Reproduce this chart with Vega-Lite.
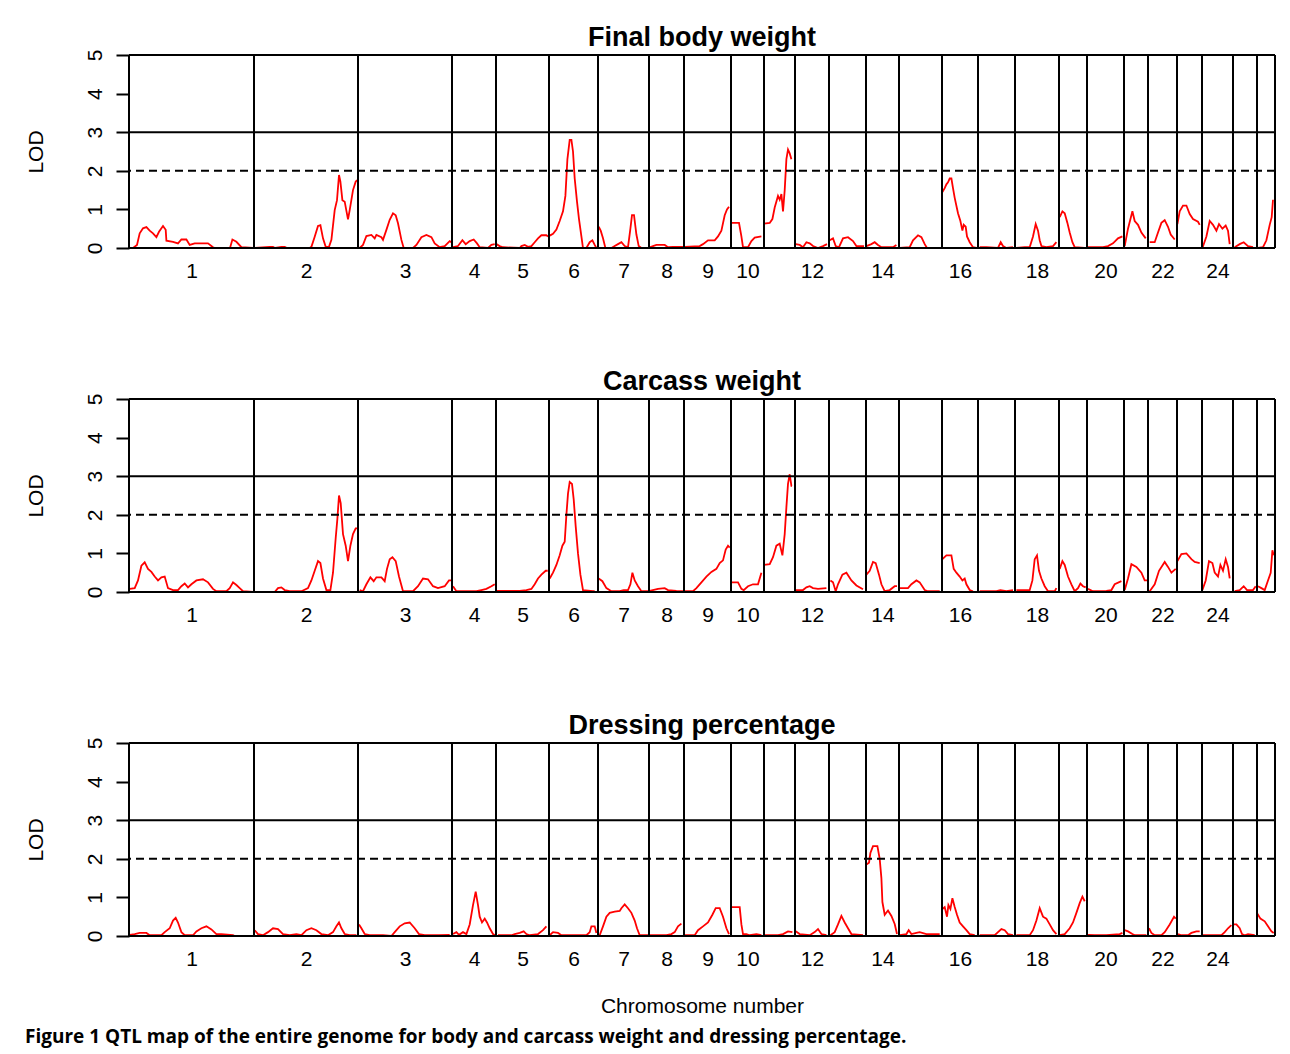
{
"$schema": "https://vega.github.io/schema/vega-lite/v6.json",
"background": "white",
"autosize": {"type": "pad"},
"padding": {"left": 24, "top": 24, "right": 5, "bottom": 3},
"config": {
  "font": "Liberation Sans",
  "view": {"stroke": null},
  "axis": {"labelColor": "black", "titleColor": "black", "labelFont": "Liberation Sans", "titleFont": "Liberation Sans", "labelFontSize": 21, "titleFontSize": 21, "titleFontWeight": "normal", "domainColor": "black", "tickColor": "black", "grid": false},
  "axisY": {"labelOverlap": false, "labelSeparation": 0, "tickCount": 6, "tickSize": 13, "tickWidth": 2, "domain": false, "labelAngle": -90, "labelAlign": "center", "labelBaseline": "bottom", "labelPadding": 11, "labelFlush": false, "labelBound": false, "titlePadding": 38},
  "axisX": {"ticks": false, "tickSize": 0, "domain": false, "labelPadding": 12, "labelOverlap": false, "labelFlush": false, "labelBound": false, "titlePadding": 26}
},
"title": {"text": "Figure 1 QTL map of the entire genome for body and carcass weight and dressing percentage.", "orient": "bottom", "anchor": "start", "frame": "bounds", "font": "Open Sans", "fontSize": 19, "fontWeight": "bold", "color": "black", "offset": 27, "baseline": "alphabetic"},
"spacing": 151,
"bounds": "flush",
"datasets": {
"bounds": [{"pos":0},{"pos":125},{"pos":229},{"pos":323},{"pos":367},{"pos":420},{"pos":469},{"pos":520},{"pos":555},{"pos":602},{"pos":635},{"pos":666},{"pos":700},{"pos":737},{"pos":770},{"pos":813},{"pos":849},{"pos":886},{"pos":930},{"pos":958},{"pos":995},{"pos":1019},{"pos":1048},{"pos":1073},{"pos":1104},{"pos":1128},{"pos":1146}],
"solid": [{"lod":0},{"lod":3},{"lod":5}],
"dashed": [{"lod":2}],
"final": [
{"chr":1,"pos":4,"lod":0},{"chr":1,"pos":8,"lod":0.08},{"chr":1,"pos":10.7,"lod":0.38},{"chr":1,"pos":14,"lod":0.51},{"chr":1,"pos":17.4,"lod":0.54},{"chr":1,"pos":20.7,"lod":0.45},{"chr":1,"pos":24,"lod":0.38},{"chr":1,"pos":27.4,"lod":0.28},{"chr":1,"pos":30,"lod":0.42},{"chr":1,"pos":34,"lod":0.57},{"chr":1,"pos":36.7,"lod":0.47},{"chr":1,"pos":37.4,"lod":0.19},{"chr":1,"pos":44,"lod":0.16},{"chr":1,"pos":49,"lod":0.12},{"chr":1,"pos":52.4,"lod":0.22},{"chr":1,"pos":57.4,"lod":0.22},{"chr":1,"pos":60.7,"lod":0.08},{"chr":1,"pos":65.7,"lod":0.12},{"chr":1,"pos":79,"lod":0.12},{"chr":1,"pos":84,"lod":0.02},{"chr":1,"pos":86,"lod":0},{"chr":1,"pos":101,"lod":0},{"chr":1,"pos":103.4,"lod":0.22},{"chr":1,"pos":107.4,"lod":0.16},{"chr":1,"pos":112.4,"lod":0.02},{"chr":1,"pos":124,"lod":0},
{"chr":2,"pos":126,"lod":0},{"chr":2,"pos":140.7,"lod":0.03},{"chr":2,"pos":144,"lod":0.03},{"chr":2,"pos":146,"lod":0},{"chr":2,"pos":152.4,"lod":0.03},{"chr":2,"pos":155.7,"lod":0.03},{"chr":2,"pos":158,"lod":0},{"chr":2,"pos":180.7,"lod":0},{"chr":2,"pos":182.4,"lod":0.03},{"chr":2,"pos":185.7,"lod":0.29},{"chr":2,"pos":189,"lod":0.57},{"chr":2,"pos":191.4,"lod":0.59},{"chr":2,"pos":194,"lod":0.25},{"chr":2,"pos":196.7,"lod":0.03},{"chr":2,"pos":200,"lod":0.03},{"chr":2,"pos":202.4,"lod":0.21},{"chr":2,"pos":205.7,"lod":0.98},{"chr":2,"pos":208,"lod":1.24},{"chr":2,"pos":210,"lod":1.89},{"chr":2,"pos":211.4,"lod":1.72},{"chr":2,"pos":213.4,"lod":1.24},{"chr":2,"pos":215.7,"lod":1.2},{"chr":2,"pos":219,"lod":0.74},{"chr":2,"pos":220.7,"lod":0.98},{"chr":2,"pos":224,"lod":1.5},{"chr":2,"pos":226.7,"lod":1.72},{"chr":2,"pos":228.4,"lod":1.76},
{"chr":3,"pos":230.7,"lod":0},{"chr":3,"pos":234,"lod":0.08},{"chr":3,"pos":237.4,"lod":0.31},{"chr":3,"pos":242.4,"lod":0.34},{"chr":3,"pos":245.7,"lod":0.25},{"chr":3,"pos":247.4,"lod":0.34},{"chr":3,"pos":252.4,"lod":0.28},{"chr":3,"pos":254,"lod":0.21},{"chr":3,"pos":257.4,"lod":0.47},{"chr":3,"pos":260.7,"lod":0.73},{"chr":3,"pos":264,"lod":0.9},{"chr":3,"pos":266.7,"lod":0.85},{"chr":3,"pos":269,"lod":0.64},{"chr":3,"pos":272.4,"lod":0.21},{"chr":3,"pos":274.7,"lod":0},{"chr":3,"pos":284,"lod":0},{"chr":3,"pos":287.4,"lod":0.08},{"chr":3,"pos":292.4,"lod":0.28},{"chr":3,"pos":297.4,"lod":0.34},{"chr":3,"pos":302.4,"lod":0.28},{"chr":3,"pos":305.7,"lod":0.12},{"chr":3,"pos":310.7,"lod":0.02},{"chr":3,"pos":315.7,"lod":0.05},{"chr":3,"pos":320.7,"lod":0.18},{"chr":3,"pos":322.4,"lod":0.15},
{"chr":4,"pos":324,"lod":0.02},{"chr":4,"pos":329,"lod":0.05},{"chr":4,"pos":333.4,"lod":0.2},{"chr":4,"pos":336.7,"lod":0.1},{"chr":4,"pos":340.7,"lod":0.18},{"chr":4,"pos":344.7,"lod":0.22},{"chr":4,"pos":348,"lod":0.12},{"chr":4,"pos":350.7,"lod":0.02},{"chr":4,"pos":359,"lod":0},{"chr":4,"pos":362.4,"lod":0.08},{"chr":4,"pos":365.7,"lod":0.1},
{"chr":5,"pos":367.4,"lod":0.1},{"chr":5,"pos":370.7,"lod":0.05},{"chr":5,"pos":374,"lod":0.02},{"chr":5,"pos":390.7,"lod":0},{"chr":5,"pos":392.4,"lod":0.05},{"chr":5,"pos":395.7,"lod":0.08},{"chr":5,"pos":399,"lod":0.03},{"chr":5,"pos":402.4,"lod":0.05},{"chr":5,"pos":405.7,"lod":0.15},{"chr":5,"pos":409,"lod":0.25},{"chr":5,"pos":412.4,"lod":0.33},{"chr":5,"pos":417.4,"lod":0.33},{"chr":5,"pos":419,"lod":0.3},
{"chr":6,"pos":420.7,"lod":0.32},{"chr":6,"pos":424,"lod":0.37},{"chr":6,"pos":427.4,"lod":0.48},{"chr":6,"pos":430.7,"lod":0.7},{"chr":6,"pos":434,"lod":0.95},{"chr":6,"pos":436.4,"lod":1.35},{"chr":6,"pos":438.4,"lod":2.3},{"chr":6,"pos":440.7,"lod":2.8},{"chr":6,"pos":442.4,"lod":2.8},{"chr":6,"pos":444,"lod":2.5},{"chr":6,"pos":445.7,"lod":1.8},{"chr":6,"pos":448,"lod":1.2},{"chr":6,"pos":450,"lod":0.75},{"chr":6,"pos":452.4,"lod":0.3},{"chr":6,"pos":454,"lod":0},{"chr":6,"pos":457.4,"lod":0},{"chr":6,"pos":460.7,"lod":0.15},{"chr":6,"pos":463.4,"lod":0.2},{"chr":6,"pos":465.7,"lod":0.08},{"chr":6,"pos":467.4,"lod":0},
{"chr":7,"pos":469.7,"lod":0.55},{"chr":7,"pos":471.7,"lod":0.45},{"chr":7,"pos":474,"lod":0.25},{"chr":7,"pos":476.4,"lod":0},{"chr":7,"pos":482.4,"lod":0},{"chr":7,"pos":485.7,"lod":0.05},{"chr":7,"pos":489,"lod":0.1},{"chr":7,"pos":492.4,"lod":0.15},{"chr":7,"pos":495.7,"lod":0.05},{"chr":7,"pos":499,"lod":0.02},{"chr":7,"pos":501.4,"lod":0.5},{"chr":7,"pos":503,"lod":0.85},{"chr":7,"pos":505,"lod":0.85},{"chr":7,"pos":507.4,"lod":0.35},{"chr":7,"pos":509.7,"lod":0.05},{"chr":7,"pos":512.4,"lod":0},{"chr":7,"pos":519,"lod":0},
{"chr":8,"pos":520.7,"lod":0.02},{"chr":8,"pos":524,"lod":0.05},{"chr":8,"pos":527.4,"lod":0.08},{"chr":8,"pos":535.7,"lod":0.08},{"chr":8,"pos":539,"lod":0.02},{"chr":8,"pos":544,"lod":0.03},{"chr":8,"pos":554,"lod":0.03},
{"chr":9,"pos":555.7,"lod":0.03},{"chr":9,"pos":570.7,"lod":0.05},{"chr":9,"pos":574,"lod":0.1},{"chr":9,"pos":579,"lod":0.2},{"chr":9,"pos":585.7,"lod":0.2},{"chr":9,"pos":589,"lod":0.3},{"chr":9,"pos":592.4,"lod":0.45},{"chr":9,"pos":595.7,"lod":0.85},{"chr":9,"pos":598,"lod":1.0},{"chr":9,"pos":600,"lod":1.07},
{"chr":10,"pos":602.4,"lod":0.65},{"chr":10,"pos":610,"lod":0.65},{"chr":10,"pos":612.4,"lod":0.3},{"chr":10,"pos":614,"lod":0.02},{"chr":10,"pos":619,"lod":0.02},{"chr":10,"pos":622.4,"lod":0.18},{"chr":10,"pos":625.7,"lod":0.27},{"chr":10,"pos":632.4,"lod":0.3},
{"chr":11,"pos":635,"lod":0.63},{"chr":11,"pos":640.7,"lod":0.65},{"chr":11,"pos":643.4,"lod":0.75},{"chr":11,"pos":645.7,"lod":1.05},{"chr":11,"pos":649,"lod":1.35},{"chr":11,"pos":650.7,"lod":1.25},{"chr":11,"pos":652.4,"lod":1.4},{"chr":11,"pos":654,"lod":0.95},{"chr":11,"pos":655.7,"lod":1.5},{"chr":11,"pos":657.4,"lod":2.3},{"chr":11,"pos":659,"lod":2.55},{"chr":11,"pos":660.7,"lod":2.45},{"chr":11,"pos":662.4,"lod":2.3},
{"chr":12,"pos":666.7,"lod":0.1},{"chr":12,"pos":670.7,"lod":0.08},{"chr":12,"pos":674,"lod":0.02},{"chr":12,"pos":677.4,"lod":0.15},{"chr":12,"pos":680.7,"lod":0.12},{"chr":12,"pos":684,"lod":0.05},{"chr":12,"pos":689,"lod":0},{"chr":12,"pos":694,"lod":0.05},{"chr":12,"pos":698,"lod":0.1},
{"chr":13,"pos":700.7,"lod":0.2},{"chr":13,"pos":704,"lod":0.25},{"chr":13,"pos":706.7,"lod":0.05},{"chr":13,"pos":710,"lod":0.02},{"chr":13,"pos":714,"lod":0.25},{"chr":13,"pos":719,"lod":0.28},{"chr":13,"pos":724,"lod":0.18},{"chr":13,"pos":727.4,"lod":0.05},{"chr":13,"pos":735,"lod":0.05},
{"chr":14,"pos":737.4,"lod":0.05},{"chr":14,"pos":742.4,"lod":0.1},{"chr":14,"pos":745.7,"lod":0.15},{"chr":14,"pos":749,"lod":0.08},{"chr":14,"pos":752.4,"lod":0.02},{"chr":14,"pos":764,"lod":0.02},{"chr":14,"pos":767.4,"lod":0.08},
{"chr":15,"pos":770.7,"lod":0},{"chr":15,"pos":780.7,"lod":0.02},{"chr":15,"pos":784,"lod":0.2},{"chr":15,"pos":789,"lod":0.33},{"chr":15,"pos":792.4,"lod":0.28},{"chr":15,"pos":795.7,"lod":0.1},{"chr":15,"pos":798,"lod":0},{"chr":15,"pos":810.7,"lod":0},
{"chr":16,"pos":813.4,"lod":1.45},{"chr":16,"pos":815.7,"lod":1.55},{"chr":16,"pos":817.4,"lod":1.65},{"chr":16,"pos":819,"lod":1.7},{"chr":16,"pos":820.7,"lod":1.8},{"chr":16,"pos":822.4,"lod":1.8},{"chr":16,"pos":824,"lod":1.55},{"chr":16,"pos":825.7,"lod":1.3},{"chr":16,"pos":829,"lod":0.9},{"chr":16,"pos":831.4,"lod":0.7},{"chr":16,"pos":833.4,"lod":0.45},{"chr":16,"pos":834.7,"lod":0.6},{"chr":16,"pos":836.7,"lod":0.55},{"chr":16,"pos":838,"lod":0.3},{"chr":16,"pos":840.7,"lod":0.15},{"chr":16,"pos":844,"lod":0.02},{"chr":16,"pos":847.4,"lod":0},
{"chr":17,"pos":850.7,"lod":0.02},{"chr":17,"pos":857.4,"lod":0.02},{"chr":17,"pos":869,"lod":0},{"chr":17,"pos":871.7,"lod":0.15},{"chr":17,"pos":874,"lod":0.05},{"chr":17,"pos":877.4,"lod":0},{"chr":17,"pos":884,"lod":0.02},
{"chr":18,"pos":887.4,"lod":0},{"chr":18,"pos":895.7,"lod":0.02},{"chr":18,"pos":900.7,"lod":0.02},{"chr":18,"pos":904,"lod":0.3},{"chr":18,"pos":906.7,"lod":0.62},{"chr":18,"pos":909,"lod":0.45},{"chr":18,"pos":910.7,"lod":0.2},{"chr":18,"pos":912.4,"lod":0.05},{"chr":18,"pos":917.4,"lod":0.02},{"chr":18,"pos":924,"lod":0.05},{"chr":18,"pos":927.4,"lod":0.15},
{"chr":19,"pos":930.7,"lod":0.8},{"chr":19,"pos":933.4,"lod":0.95},{"chr":19,"pos":935.7,"lod":0.9},{"chr":19,"pos":938.4,"lod":0.65},{"chr":19,"pos":940.7,"lod":0.4},{"chr":19,"pos":943.4,"lod":0.15},{"chr":19,"pos":945.7,"lod":0.02},{"chr":19,"pos":955.7,"lod":0},
{"chr":20,"pos":959,"lod":0.02},{"chr":20,"pos":967.4,"lod":0.02},{"chr":20,"pos":974,"lod":0.02},{"chr":20,"pos":979,"lod":0.05},{"chr":20,"pos":984,"lod":0.12},{"chr":20,"pos":989,"lod":0.25},{"chr":20,"pos":993.4,"lod":0.3},
{"chr":21,"pos":995.7,"lod":0.05},{"chr":21,"pos":999,"lod":0.5},{"chr":21,"pos":1003.4,"lod":0.95},{"chr":21,"pos":1005.7,"lod":0.7},{"chr":21,"pos":1009,"lod":0.6},{"chr":21,"pos":1012.4,"lod":0.4},{"chr":21,"pos":1016.7,"lod":0.25},
{"chr":22,"pos":1020.7,"lod":0.15},{"chr":22,"pos":1025.7,"lod":0.15},{"chr":22,"pos":1029,"lod":0.4},{"chr":22,"pos":1032.4,"lod":0.65},{"chr":22,"pos":1035.7,"lod":0.72},{"chr":22,"pos":1039,"lod":0.55},{"chr":22,"pos":1041.7,"lod":0.35},{"chr":22,"pos":1045.7,"lod":0.22},
{"chr":23,"pos":1048.4,"lod":0.62},{"chr":23,"pos":1050.7,"lod":0.95},{"chr":23,"pos":1054,"lod":1.1},{"chr":23,"pos":1057.4,"lod":1.1},{"chr":23,"pos":1060.7,"lod":0.88},{"chr":23,"pos":1064,"lod":0.75},{"chr":23,"pos":1069,"lod":0.68},{"chr":23,"pos":1070.7,"lod":0.6},
{"chr":24,"pos":1073.4,"lod":0},{"chr":24,"pos":1077.4,"lod":0.3},{"chr":24,"pos":1080.7,"lod":0.7},{"chr":24,"pos":1084,"lod":0.6},{"chr":24,"pos":1087.4,"lod":0.45},{"chr":24,"pos":1090,"lod":0.62},{"chr":24,"pos":1093.4,"lod":0.5},{"chr":24,"pos":1096.7,"lod":0.58},{"chr":24,"pos":1099,"lod":0.45},{"chr":24,"pos":1100.7,"lod":0.1},
{"chr":25,"pos":1105.7,"lod":0.02},{"chr":25,"pos":1110.7,"lod":0.1},{"chr":25,"pos":1114.7,"lod":0.15},{"chr":25,"pos":1119,"lod":0.05},{"chr":25,"pos":1124,"lod":0.02},
{"chr":26,"pos":1129,"lod":0},{"chr":26,"pos":1134,"lod":0.02},{"chr":26,"pos":1137.4,"lod":0.2},{"chr":26,"pos":1140.7,"lod":0.6},{"chr":26,"pos":1142.7,"lod":0.8},{"chr":26,"pos":1144,"lod":1.25}
],
"carcass": [
{"chr":1,"pos":0.7,"lod":0.08},{"chr":1,"pos":5.7,"lod":0.1},{"chr":1,"pos":9,"lod":0.3},{"chr":1,"pos":12.4,"lod":0.68},{"chr":1,"pos":15.7,"lod":0.77},{"chr":1,"pos":19,"lod":0.6},{"chr":1,"pos":22.4,"lod":0.52},{"chr":1,"pos":25.7,"lod":0.4},{"chr":1,"pos":29,"lod":0.3},{"chr":1,"pos":32.4,"lod":0.38},{"chr":1,"pos":35.7,"lod":0.4},{"chr":1,"pos":39,"lod":0.1},{"chr":1,"pos":44,"lod":0.05},{"chr":1,"pos":49,"lod":0.05},{"chr":1,"pos":52.4,"lod":0.15},{"chr":1,"pos":55.7,"lod":0.22},{"chr":1,"pos":59,"lod":0.12},{"chr":1,"pos":62.4,"lod":0.2},{"chr":1,"pos":67.4,"lod":0.3},{"chr":1,"pos":74,"lod":0.33},{"chr":1,"pos":79,"lod":0.25},{"chr":1,"pos":84,"lod":0.08},{"chr":1,"pos":87.4,"lod":0.02},{"chr":1,"pos":97.4,"lod":0.02},{"chr":1,"pos":100.7,"lod":0.1},{"chr":1,"pos":104,"lod":0.25},{"chr":1,"pos":107.4,"lod":0.18},{"chr":1,"pos":110.7,"lod":0.1},{"chr":1,"pos":114,"lod":0.02},{"chr":1,"pos":124,"lod":0},
{"chr":2,"pos":125.7,"lod":0},{"chr":2,"pos":145.7,"lod":0},{"chr":2,"pos":149,"lod":0.1},{"chr":2,"pos":152.4,"lod":0.12},{"chr":2,"pos":155.7,"lod":0.05},{"chr":2,"pos":160.7,"lod":0.02},{"chr":2,"pos":169,"lod":0.02},{"chr":2,"pos":172.4,"lod":0.02},{"chr":2,"pos":179,"lod":0.1},{"chr":2,"pos":182.4,"lod":0.3},{"chr":2,"pos":185.7,"lod":0.55},{"chr":2,"pos":189,"lod":0.8},{"chr":2,"pos":191.4,"lod":0.75},{"chr":2,"pos":194,"lod":0.35},{"chr":2,"pos":197.4,"lod":0.05},{"chr":2,"pos":201.4,"lod":0.05},{"chr":2,"pos":204,"lod":0.5},{"chr":2,"pos":206.7,"lod":1.4},{"chr":2,"pos":208.4,"lod":1.9},{"chr":2,"pos":210,"lod":2.5},{"chr":2,"pos":211.7,"lod":2.3},{"chr":2,"pos":214,"lod":1.5},{"chr":2,"pos":216.7,"lod":1.2},{"chr":2,"pos":219,"lod":0.8},{"chr":2,"pos":221.4,"lod":1.2},{"chr":2,"pos":224,"lod":1.5},{"chr":2,"pos":226.7,"lod":1.65},{"chr":2,"pos":228.4,"lod":1.65},
{"chr":3,"pos":230.7,"lod":0.05},{"chr":3,"pos":234,"lod":0.02},{"chr":3,"pos":237.4,"lod":0.2},{"chr":3,"pos":241.4,"lod":0.38},{"chr":3,"pos":244.7,"lod":0.28},{"chr":3,"pos":247.4,"lod":0.38},{"chr":3,"pos":252.4,"lod":0.38},{"chr":3,"pos":255.7,"lod":0.28},{"chr":3,"pos":258,"lod":0.6},{"chr":3,"pos":260.7,"lod":0.85},{"chr":3,"pos":263.4,"lod":0.9},{"chr":3,"pos":266.7,"lod":0.8},{"chr":3,"pos":270,"lod":0.4},{"chr":3,"pos":274,"lod":0.02},{"chr":3,"pos":284,"lod":0.02},{"chr":3,"pos":289,"lod":0.15},{"chr":3,"pos":294,"lod":0.35},{"chr":3,"pos":299,"lod":0.33},{"chr":3,"pos":304,"lod":0.15},{"chr":3,"pos":309,"lod":0.1},{"chr":3,"pos":315.7,"lod":0.15},{"chr":3,"pos":320,"lod":0.3},{"chr":3,"pos":322.4,"lod":0.3},
{"chr":4,"pos":324,"lod":0.15},{"chr":4,"pos":327.4,"lod":0.02},{"chr":4,"pos":330.7,"lod":0.02},{"chr":4,"pos":347.4,"lod":0.02},{"chr":4,"pos":352.4,"lod":0.05},{"chr":4,"pos":357.4,"lod":0.08},{"chr":4,"pos":362.4,"lod":0.15},{"chr":4,"pos":365.7,"lod":0.2},
{"chr":5,"pos":368,"lod":0.03},{"chr":5,"pos":390.7,"lod":0.03},{"chr":5,"pos":397.4,"lod":0.05},{"chr":5,"pos":402.4,"lod":0.08},{"chr":5,"pos":405.7,"lod":0.2},{"chr":5,"pos":409,"lod":0.35},{"chr":5,"pos":412.4,"lod":0.45},{"chr":5,"pos":416.7,"lod":0.55},{"chr":5,"pos":418.7,"lod":0.55},
{"chr":6,"pos":420.7,"lod":0.35},{"chr":6,"pos":424,"lod":0.5},{"chr":6,"pos":427.4,"lod":0.7},{"chr":6,"pos":430.7,"lod":0.95},{"chr":6,"pos":433.4,"lod":1.2},{"chr":6,"pos":435.7,"lod":1.3},{"chr":6,"pos":437.4,"lod":2.0},{"chr":6,"pos":439,"lod":2.55},{"chr":6,"pos":440.7,"lod":2.85},{"chr":6,"pos":443,"lod":2.8},{"chr":6,"pos":444.7,"lod":2.4},{"chr":6,"pos":446.7,"lod":1.7},{"chr":6,"pos":449,"lod":1.0},{"chr":6,"pos":451.4,"lod":0.45},{"chr":6,"pos":454,"lod":0.05},{"chr":6,"pos":464,"lod":0.02},{"chr":6,"pos":465.7,"lod":0.02},
{"chr":7,"pos":469.7,"lod":0.35},{"chr":7,"pos":473.4,"lod":0.28},{"chr":7,"pos":477.4,"lod":0.1},{"chr":7,"pos":482.4,"lod":0.02},{"chr":7,"pos":490.7,"lod":0.02},{"chr":7,"pos":494.7,"lod":0.05},{"chr":7,"pos":499,"lod":0.05},{"chr":7,"pos":501.4,"lod":0.2},{"chr":7,"pos":503.4,"lod":0.5},{"chr":7,"pos":505.7,"lod":0.3},{"chr":7,"pos":509,"lod":0.15},{"chr":7,"pos":512.4,"lod":0.02},{"chr":7,"pos":519,"lod":0.02},
{"chr":8,"pos":520.7,"lod":0.03},{"chr":8,"pos":529,"lod":0.08},{"chr":8,"pos":535.7,"lod":0.1},{"chr":8,"pos":539,"lod":0.05},{"chr":8,"pos":547.4,"lod":0.03},{"chr":8,"pos":554,"lod":0.02},
{"chr":9,"pos":555.7,"lod":0.02},{"chr":9,"pos":564,"lod":0.02},{"chr":9,"pos":567.4,"lod":0.1},{"chr":9,"pos":572.4,"lod":0.25},{"chr":9,"pos":577.4,"lod":0.4},{"chr":9,"pos":582.4,"lod":0.52},{"chr":9,"pos":587.4,"lod":0.6},{"chr":9,"pos":590.7,"lod":0.75},{"chr":9,"pos":594,"lod":0.82},{"chr":9,"pos":596.7,"lod":1.1},{"chr":9,"pos":599,"lod":1.2},{"chr":9,"pos":600.7,"lod":1.15},
{"chr":10,"pos":602.4,"lod":0.25},{"chr":10,"pos":609,"lod":0.25},{"chr":10,"pos":612.4,"lod":0.08},{"chr":10,"pos":614.7,"lod":0.05},{"chr":10,"pos":619,"lod":0.15},{"chr":10,"pos":624,"lod":0.2},{"chr":10,"pos":629,"lod":0.2},{"chr":10,"pos":632.4,"lod":0.5},
{"chr":11,"pos":635,"lod":0.7},{"chr":11,"pos":640.7,"lod":0.72},{"chr":11,"pos":644,"lod":0.9},{"chr":11,"pos":647.4,"lod":1.2},{"chr":11,"pos":650.7,"lod":1.25},{"chr":11,"pos":653.4,"lod":0.95},{"chr":11,"pos":655.7,"lod":1.5},{"chr":11,"pos":657.4,"lod":2.2},{"chr":11,"pos":659,"lod":2.8},{"chr":11,"pos":660.7,"lod":3.05},{"chr":11,"pos":662.4,"lod":2.75},{"chr":11,"pos":663,"lod":2.75},
{"chr":12,"pos":666.7,"lod":0.05},{"chr":12,"pos":674,"lod":0.05},{"chr":12,"pos":677.4,"lod":0.12},{"chr":12,"pos":680.7,"lod":0.15},{"chr":12,"pos":684,"lod":0.1},{"chr":12,"pos":689,"lod":0.08},{"chr":12,"pos":697.4,"lod":0.1},
{"chr":13,"pos":701.4,"lod":0.3},{"chr":13,"pos":704,"lod":0.25},{"chr":13,"pos":706.7,"lod":0.02},{"chr":13,"pos":709,"lod":0.2},{"chr":13,"pos":713.4,"lod":0.45},{"chr":13,"pos":717.4,"lod":0.5},{"chr":13,"pos":722.4,"lod":0.3},{"chr":13,"pos":727.4,"lod":0.17},{"chr":13,"pos":734,"lod":0.07},
{"chr":14,"pos":737.4,"lod":0.45},{"chr":14,"pos":740.7,"lod":0.55},{"chr":14,"pos":744,"lod":0.78},{"chr":14,"pos":746.7,"lod":0.75},{"chr":14,"pos":750,"lod":0.45},{"chr":14,"pos":752.4,"lod":0.2},{"chr":14,"pos":755.7,"lod":0.02},{"chr":14,"pos":760.7,"lod":0.05},{"chr":14,"pos":765.7,"lod":0.15},{"chr":14,"pos":768,"lod":0.15},
{"chr":15,"pos":770.7,"lod":0.1},{"chr":15,"pos":779,"lod":0.1},{"chr":15,"pos":782.4,"lod":0.2},{"chr":15,"pos":787.4,"lod":0.3},{"chr":15,"pos":790.7,"lod":0.25},{"chr":15,"pos":795.7,"lod":0.05},{"chr":15,"pos":799,"lod":0.02},{"chr":15,"pos":810.7,"lod":0.02},
{"chr":16,"pos":813.4,"lod":0.85},{"chr":16,"pos":817.4,"lod":0.95},{"chr":16,"pos":822.4,"lod":0.95},{"chr":16,"pos":824.7,"lod":0.6},{"chr":16,"pos":827.4,"lod":0.5},{"chr":16,"pos":830.7,"lod":0.4},{"chr":16,"pos":833.4,"lod":0.3},{"chr":16,"pos":835.7,"lod":0.35},{"chr":16,"pos":837.4,"lod":0.2},{"chr":16,"pos":840.7,"lod":0.05},{"chr":16,"pos":844,"lod":0.02},
{"chr":17,"pos":850.7,"lod":0.02},{"chr":17,"pos":864,"lod":0.02},{"chr":17,"pos":867.4,"lod":0.02},{"chr":17,"pos":871.4,"lod":0.05},{"chr":17,"pos":877.4,"lod":0.02},{"chr":17,"pos":884,"lod":0.05},
{"chr":18,"pos":887.4,"lod":0.05},{"chr":18,"pos":900.7,"lod":0.05},{"chr":18,"pos":903.4,"lod":0.3},{"chr":18,"pos":905.7,"lod":0.85},{"chr":18,"pos":908,"lod":0.95},{"chr":18,"pos":910,"lod":0.55},{"chr":18,"pos":912.4,"lod":0.35},{"chr":18,"pos":915.7,"lod":0.15},{"chr":18,"pos":919,"lod":0.02},{"chr":18,"pos":925.7,"lod":0.02},{"chr":18,"pos":927.4,"lod":0.1},
{"chr":19,"pos":930.7,"lod":0.6},{"chr":19,"pos":933.4,"lod":0.8},{"chr":19,"pos":935.7,"lod":0.7},{"chr":19,"pos":939,"lod":0.4},{"chr":19,"pos":942.4,"lod":0.2},{"chr":19,"pos":945.7,"lod":0.02},{"chr":19,"pos":949,"lod":0.1},{"chr":19,"pos":951.4,"lod":0.22},{"chr":19,"pos":954,"lod":0.15},{"chr":19,"pos":956.7,"lod":0.12},
{"chr":20,"pos":959,"lod":0.08},{"chr":20,"pos":964,"lod":0.02},{"chr":20,"pos":970.7,"lod":0.02},{"chr":20,"pos":977.4,"lod":0.03},{"chr":20,"pos":982.4,"lod":0.05},{"chr":20,"pos":985.7,"lod":0.2},{"chr":20,"pos":992.4,"lod":0.28},
{"chr":21,"pos":995.7,"lod":0.05},{"chr":21,"pos":999,"lod":0.35},{"chr":21,"pos":1002.4,"lod":0.72},{"chr":21,"pos":1007.4,"lod":0.65},{"chr":21,"pos":1012.4,"lod":0.5},{"chr":21,"pos":1015.7,"lod":0.3},{"chr":21,"pos":1018,"lod":0.3},
{"chr":22,"pos":1020.7,"lod":0.02},{"chr":22,"pos":1025.7,"lod":0.2},{"chr":22,"pos":1030,"lod":0.55},{"chr":22,"pos":1035.7,"lod":0.78},{"chr":22,"pos":1039,"lod":0.65},{"chr":22,"pos":1042.4,"lod":0.5},{"chr":22,"pos":1046.7,"lod":0.6},
{"chr":23,"pos":1048.4,"lod":0.8},{"chr":23,"pos":1052.4,"lod":0.98},{"chr":23,"pos":1057.4,"lod":1.0},{"chr":23,"pos":1062.4,"lod":0.85},{"chr":23,"pos":1065.7,"lod":0.78},{"chr":23,"pos":1070.7,"lod":0.75},
{"chr":24,"pos":1073.4,"lod":0.05},{"chr":24,"pos":1076.7,"lod":0.3},{"chr":24,"pos":1080,"lod":0.8},{"chr":24,"pos":1083.4,"lod":0.75},{"chr":24,"pos":1085.7,"lod":0.5},{"chr":24,"pos":1089,"lod":0.4},{"chr":24,"pos":1091.4,"lod":0.7},{"chr":24,"pos":1094,"lod":0.55},{"chr":24,"pos":1096.7,"lod":0.85},{"chr":24,"pos":1099,"lod":0.65},{"chr":24,"pos":1100.7,"lod":0.35},
{"chr":25,"pos":1105.7,"lod":0.02},{"chr":25,"pos":1110.7,"lod":0.05},{"chr":25,"pos":1114.7,"lod":0.15},{"chr":25,"pos":1118,"lod":0.05},{"chr":25,"pos":1124,"lod":0.05},{"chr":25,"pos":1126.7,"lod":0.15},
{"chr":26,"pos":1129,"lod":0.15},{"chr":26,"pos":1132.4,"lod":0.1},{"chr":26,"pos":1135.7,"lod":0.05},{"chr":26,"pos":1139,"lod":0.3},{"chr":26,"pos":1141.7,"lod":0.5},{"chr":26,"pos":1143.4,"lod":1.08},{"chr":26,"pos":1144.7,"lod":0.95}
],
"dressing": [
{"chr":1,"pos":0.7,"lod":0.03},{"chr":1,"pos":5.7,"lod":0.05},{"chr":1,"pos":10.7,"lod":0.08},{"chr":1,"pos":17.4,"lod":0.08},{"chr":1,"pos":20.7,"lod":0.02},{"chr":1,"pos":32.4,"lod":0.02},{"chr":1,"pos":35.7,"lod":0.1},{"chr":1,"pos":40.7,"lod":0.2},{"chr":1,"pos":44,"lod":0.4},{"chr":1,"pos":46.7,"lod":0.47},{"chr":1,"pos":49,"lod":0.35},{"chr":1,"pos":52.4,"lod":0.1},{"chr":1,"pos":55.7,"lod":0.02},{"chr":1,"pos":64,"lod":0.02},{"chr":1,"pos":67.4,"lod":0.12},{"chr":1,"pos":72.4,"lod":0.2},{"chr":1,"pos":77.4,"lod":0.25},{"chr":1,"pos":82.4,"lod":0.17},{"chr":1,"pos":87.4,"lod":0.05},{"chr":1,"pos":92.4,"lod":0.05},{"chr":1,"pos":104,"lod":0.02},{"chr":1,"pos":105.7,"lod":0},
{"chr":2,"pos":125.7,"lod":0.15},{"chr":2,"pos":129,"lod":0.05},{"chr":2,"pos":134,"lod":0.02},{"chr":2,"pos":139,"lod":0.1},{"chr":2,"pos":144,"lod":0.2},{"chr":2,"pos":149,"lod":0.18},{"chr":2,"pos":154,"lod":0.05},{"chr":2,"pos":160.7,"lod":0.02},{"chr":2,"pos":167.4,"lod":0.05},{"chr":2,"pos":172.4,"lod":0.02},{"chr":2,"pos":177.4,"lod":0.15},{"chr":2,"pos":182.4,"lod":0.2},{"chr":2,"pos":187.4,"lod":0.15},{"chr":2,"pos":192.4,"lod":0.05},{"chr":2,"pos":199,"lod":0.02},{"chr":2,"pos":204,"lod":0.1},{"chr":2,"pos":207.4,"lod":0.25},{"chr":2,"pos":210,"lod":0.35},{"chr":2,"pos":212.4,"lod":0.2},{"chr":2,"pos":215.7,"lod":0.05},{"chr":2,"pos":220.7,"lod":0.02},{"chr":2,"pos":227.4,"lod":0.02},
{"chr":3,"pos":230,"lod":0.3},{"chr":3,"pos":232.4,"lod":0.2},{"chr":3,"pos":235.7,"lod":0.05},{"chr":3,"pos":240.7,"lod":0.02},{"chr":3,"pos":254,"lod":0.02},{"chr":3,"pos":262.4,"lod":0},{"chr":3,"pos":265.7,"lod":0.1},{"chr":3,"pos":270.7,"lod":0.25},{"chr":3,"pos":275.7,"lod":0.33},{"chr":3,"pos":280.7,"lod":0.35},{"chr":3,"pos":285.7,"lod":0.2},{"chr":3,"pos":290,"lod":0.05},{"chr":3,"pos":295.7,"lod":0.02},{"chr":3,"pos":310,"lod":0.02},{"chr":3,"pos":320.7,"lod":0.03},
{"chr":4,"pos":324,"lod":0.05},{"chr":4,"pos":327.4,"lod":0.1},{"chr":4,"pos":330,"lod":0.03},{"chr":4,"pos":334,"lod":0.1},{"chr":4,"pos":337.4,"lod":0.05},{"chr":4,"pos":340.7,"lod":0.3},{"chr":4,"pos":344,"lod":0.8},{"chr":4,"pos":346.7,"lod":1.15},{"chr":4,"pos":349,"lod":0.8},{"chr":4,"pos":350.7,"lod":0.5},{"chr":4,"pos":353,"lod":0.35},{"chr":4,"pos":355.7,"lod":0.45},{"chr":4,"pos":358,"lod":0.35},{"chr":4,"pos":360.7,"lod":0.2},{"chr":4,"pos":364,"lod":0.05},{"chr":4,"pos":366,"lod":0.02},
{"chr":5,"pos":369,"lod":0.02},{"chr":5,"pos":382.4,"lod":0.02},{"chr":5,"pos":385.7,"lod":0.05},{"chr":5,"pos":390.7,"lod":0.08},{"chr":5,"pos":394.7,"lod":0.12},{"chr":5,"pos":397.4,"lod":0.05},{"chr":5,"pos":400.7,"lod":0.02},{"chr":5,"pos":409,"lod":0.05},{"chr":5,"pos":414,"lod":0.15},{"chr":5,"pos":417.4,"lod":0.25},
{"chr":6,"pos":420.7,"lod":0.02},{"chr":6,"pos":424,"lod":0.1},{"chr":6,"pos":429,"lod":0.08},{"chr":6,"pos":432.4,"lod":0.02},{"chr":6,"pos":457.4,"lod":0.02},{"chr":6,"pos":460.7,"lod":0.1},{"chr":6,"pos":462.4,"lod":0.25},{"chr":6,"pos":465.7,"lod":0.25},{"chr":6,"pos":467.4,"lod":0.08},
{"chr":7,"pos":470.7,"lod":0.02},{"chr":7,"pos":474,"lod":0.25},{"chr":7,"pos":477.4,"lod":0.5},{"chr":7,"pos":480.7,"lod":0.6},{"chr":7,"pos":485.7,"lod":0.63},{"chr":7,"pos":490.7,"lod":0.65},{"chr":7,"pos":492.4,"lod":0.72},{"chr":7,"pos":495.7,"lod":0.82},{"chr":7,"pos":499,"lod":0.72},{"chr":7,"pos":502.4,"lod":0.6},{"chr":7,"pos":505.7,"lod":0.4},{"chr":7,"pos":508,"lod":0.2},{"chr":7,"pos":510.7,"lod":0.02},{"chr":7,"pos":519,"lod":0.02},
{"chr":8,"pos":520.7,"lod":0.02},{"chr":8,"pos":537.4,"lod":0.02},{"chr":8,"pos":542.4,"lod":0.05},{"chr":8,"pos":545.7,"lod":0.1},{"chr":8,"pos":549,"lod":0.25},{"chr":8,"pos":552.4,"lod":0.32},
{"chr":9,"pos":555.7,"lod":0.02},{"chr":9,"pos":565.7,"lod":0.02},{"chr":9,"pos":569,"lod":0.15},{"chr":9,"pos":574,"lod":0.25},{"chr":9,"pos":579,"lod":0.35},{"chr":9,"pos":583.4,"lod":0.55},{"chr":9,"pos":586.7,"lod":0.72},{"chr":9,"pos":590.7,"lod":0.72},{"chr":9,"pos":594,"lod":0.5},{"chr":9,"pos":597.4,"lod":0.2},{"chr":9,"pos":600,"lod":0.05},
{"chr":10,"pos":602.4,"lod":0.75},{"chr":10,"pos":610.7,"lod":0.75},{"chr":10,"pos":612.4,"lod":0.3},{"chr":10,"pos":614,"lod":0.05},{"chr":10,"pos":617.4,"lod":0.05},{"chr":10,"pos":620.7,"lod":0.02},{"chr":10,"pos":627.4,"lod":0.05},{"chr":10,"pos":632.4,"lod":0.02},
{"chr":11,"pos":635.7,"lod":0.02},{"chr":11,"pos":649,"lod":0.02},{"chr":11,"pos":654,"lod":0.05},{"chr":11,"pos":659,"lod":0.12},{"chr":11,"pos":663.4,"lod":0.1},
{"chr":12,"pos":666.7,"lod":0.12},{"chr":12,"pos":670.7,"lod":0.05},{"chr":12,"pos":680.7,"lod":0.02},{"chr":12,"pos":685.7,"lod":0.1},{"chr":12,"pos":689,"lod":0.18},{"chr":12,"pos":692.4,"lod":0.05},{"chr":12,"pos":697.4,"lod":0.02},
{"chr":13,"pos":701.4,"lod":0.02},{"chr":13,"pos":705.7,"lod":0.1},{"chr":13,"pos":709,"lod":0.3},{"chr":13,"pos":712.4,"lod":0.52},{"chr":13,"pos":715.7,"lod":0.35},{"chr":13,"pos":719,"lod":0.2},{"chr":13,"pos":722.4,"lod":0.05},{"chr":13,"pos":734,"lod":0.02},
{"chr":14,"pos":737.4,"lod":1.85},{"chr":14,"pos":740,"lod":1.9},{"chr":14,"pos":741.4,"lod":2.15},{"chr":14,"pos":744,"lod":2.33},{"chr":14,"pos":748.4,"lod":2.33},{"chr":14,"pos":750.7,"lod":2.0},{"chr":14,"pos":752.4,"lod":1.5},{"chr":14,"pos":753.4,"lod":0.88},{"chr":14,"pos":755.7,"lod":0.55},{"chr":14,"pos":759,"lod":0.66},{"chr":14,"pos":762.4,"lod":0.52},{"chr":14,"pos":765.7,"lod":0.31},{"chr":14,"pos":768,"lod":0.05},
{"chr":15,"pos":770.7,"lod":0.02},{"chr":15,"pos":777.4,"lod":0.05},{"chr":15,"pos":779.7,"lod":0.15},{"chr":15,"pos":782.4,"lod":0.05},{"chr":15,"pos":787.4,"lod":0.08},{"chr":15,"pos":790.7,"lod":0.1},{"chr":15,"pos":797.4,"lod":0.05},{"chr":15,"pos":807.4,"lod":0.05},{"chr":15,"pos":810.7,"lod":0.05},
{"chr":16,"pos":813.4,"lod":0.7},{"chr":16,"pos":815.7,"lod":0.75},{"chr":16,"pos":818,"lod":0.5},{"chr":16,"pos":819.4,"lod":0.8},{"chr":16,"pos":821.4,"lod":0.7},{"chr":16,"pos":823.4,"lod":0.98},{"chr":16,"pos":825.7,"lod":0.75},{"chr":16,"pos":828,"lod":0.55},{"chr":16,"pos":830.7,"lod":0.35},{"chr":16,"pos":834,"lod":0.25},{"chr":16,"pos":837.4,"lod":0.15},{"chr":16,"pos":840.7,"lod":0.05},{"chr":16,"pos":845.7,"lod":0.02},
{"chr":17,"pos":850.7,"lod":0.02},{"chr":17,"pos":865.7,"lod":0.02},{"chr":17,"pos":869,"lod":0.1},{"chr":17,"pos":872.4,"lod":0.18},{"chr":17,"pos":875.7,"lod":0.15},{"chr":17,"pos":879,"lod":0.05},{"chr":17,"pos":884,"lod":0.02},
{"chr":18,"pos":887.4,"lod":0.02},{"chr":18,"pos":900.7,"lod":0.02},{"chr":18,"pos":904,"lod":0.15},{"chr":18,"pos":907.4,"lod":0.4},{"chr":18,"pos":910.7,"lod":0.72},{"chr":18,"pos":914,"lod":0.5},{"chr":18,"pos":917.4,"lod":0.45},{"chr":18,"pos":920.7,"lod":0.3},{"chr":18,"pos":924,"lod":0.15},{"chr":18,"pos":927.4,"lod":0.05},
{"chr":19,"pos":930.7,"lod":0.02},{"chr":19,"pos":935.7,"lod":0.05},{"chr":19,"pos":940.7,"lod":0.2},{"chr":19,"pos":944,"lod":0.35},{"chr":19,"pos":947.4,"lod":0.6},{"chr":19,"pos":950.7,"lod":0.85},{"chr":19,"pos":953.4,"lod":1.02},{"chr":19,"pos":955.7,"lod":0.9},
{"chr":20,"pos":959,"lod":0.03},{"chr":20,"pos":965.7,"lod":0.02},{"chr":20,"pos":977.4,"lod":0.02},{"chr":20,"pos":980.7,"lod":0.03},{"chr":20,"pos":990.7,"lod":0.05},{"chr":20,"pos":993.4,"lod":0.08},
{"chr":21,"pos":995.7,"lod":0.15},{"chr":21,"pos":999,"lod":0.12},{"chr":21,"pos":1003.4,"lod":0.05},{"chr":21,"pos":1005.7,"lod":0.02},{"chr":21,"pos":1017.4,"lod":0.02},
{"chr":22,"pos":1020,"lod":0.2},{"chr":22,"pos":1022.4,"lod":0.08},{"chr":22,"pos":1025.7,"lod":0.02},{"chr":22,"pos":1032.4,"lod":0.02},{"chr":22,"pos":1035.7,"lod":0.1},{"chr":22,"pos":1040.7,"lod":0.3},{"chr":22,"pos":1045,"lod":0.5},{"chr":22,"pos":1046.7,"lod":0.45},
{"chr":23,"pos":1049,"lod":0.05},{"chr":23,"pos":1052.4,"lod":0.02},{"chr":23,"pos":1059,"lod":0.02},{"chr":23,"pos":1062.4,"lod":0.08},{"chr":23,"pos":1067.4,"lod":0.12},{"chr":23,"pos":1070.7,"lod":0.12},
{"chr":24,"pos":1074,"lod":0.02},{"chr":24,"pos":1092.4,"lod":0.02},{"chr":24,"pos":1095.7,"lod":0.1},{"chr":24,"pos":1099,"lod":0.2},{"chr":24,"pos":1102.4,"lod":0.28},
{"chr":25,"pos":1104,"lod":0.3},{"chr":25,"pos":1107.4,"lod":0.3},{"chr":25,"pos":1110.7,"lod":0.2},{"chr":25,"pos":1113,"lod":0.05},{"chr":25,"pos":1115.7,"lod":0.02},{"chr":25,"pos":1119,"lod":0.05},{"chr":25,"pos":1125.7,"lod":0.02},
{"chr":26,"pos":1128.4,"lod":0.58},{"chr":26,"pos":1131.4,"lod":0.45},{"chr":26,"pos":1135.7,"lod":0.38},{"chr":26,"pos":1139,"lod":0.25},{"chr":26,"pos":1142.4,"lod":0.12},{"chr":26,"pos":1144.7,"lod":0.08}
]
},
"vconcat": [
{
  "title": {"text": "Final body weight", "fontSize": 27, "fontWeight": "bold", "font": "Liberation Sans", "color": "black", "frame": "group", "anchor": "middle", "offset": -24, "baseline": "alphabetic"},
  "width": 1146, "height": 193,
  "layer": [
    {"data": {"name": "final"}, "mark": {"type": "line", "color": "#ff0000", "strokeWidth": 1.8, "clip": true},
     "encoding": {
       "x": {"field": "pos", "type": "quantitative", "scale": {"domain": [0, 1146], "nice": false, "zero": false},
             "axis": {"title": null, "values": [62.5,177,276,345,393.5,444.5,494.5,537.5,578.5,618.5,683,753.5,831,908,976.5,1033.5,1088.5], "labelExpr": "['1','2','3','4','5','6','7','8','9','10','12','14','16','18','20','22','24'][indexof([62.5,177,276,345,393.5,444.5,494.5,537.5,578.5,618.5,683,753.5,831,908,976.5,1033.5,1088.5], datum.value)]"}},
       "y": {"field": "lod", "type": "quantitative", "scale": {"domain": [0, 5], "nice": false},
             "axis": {"title": "LOD", "values": [0,1,2,3,4,5], "labelOverlap": false}},
       "detail": {"field": "chr", "type": "nominal"}}},
    {"data": {"name": "bounds"}, "mark": {"type": "rule", "color": "black", "strokeWidth": 2}, "encoding": {"x": {"field": "pos", "type": "quantitative"}}},
    {"data": {"name": "solid"}, "mark": {"type": "rule", "color": "black", "strokeWidth": 2}, "encoding": {"y": {"field": "lod", "type": "quantitative", "axis": {"title": "LOD", "values": [0,1,2,3,4,5], "labelOverlap": false}}}},
    {"data": {"name": "dashed"}, "mark": {"type": "rule", "color": "black", "strokeWidth": 2, "strokeDash": [8, 5]}, "encoding": {"y": {"field": "lod", "type": "quantitative", "axis": {"title": "LOD", "values": [0,1,2,3,4,5], "labelOverlap": false}}}}
  ]
},
{
  "title": {"text": "Carcass weight", "fontSize": 27, "fontWeight": "bold", "font": "Liberation Sans", "color": "black", "frame": "group", "anchor": "middle", "offset": -24, "baseline": "alphabetic"},
  "width": 1146, "height": 193,
  "layer": [
    {"data": {"name": "carcass"}, "mark": {"type": "line", "color": "#ff0000", "strokeWidth": 1.8, "clip": true},
     "encoding": {
       "x": {"field": "pos", "type": "quantitative", "scale": {"domain": [0, 1146], "nice": false, "zero": false},
             "axis": {"title": null, "values": [62.5,177,276,345,393.5,444.5,494.5,537.5,578.5,618.5,683,753.5,831,908,976.5,1033.5,1088.5], "labelExpr": "['1','2','3','4','5','6','7','8','9','10','12','14','16','18','20','22','24'][indexof([62.5,177,276,345,393.5,444.5,494.5,537.5,578.5,618.5,683,753.5,831,908,976.5,1033.5,1088.5], datum.value)]"}},
       "y": {"field": "lod", "type": "quantitative", "scale": {"domain": [0, 5], "nice": false},
             "axis": {"title": "LOD", "values": [0,1,2,3,4,5], "labelOverlap": false}},
       "detail": {"field": "chr", "type": "nominal"}}},
    {"data": {"name": "bounds"}, "mark": {"type": "rule", "color": "black", "strokeWidth": 2}, "encoding": {"x": {"field": "pos", "type": "quantitative"}}},
    {"data": {"name": "solid"}, "mark": {"type": "rule", "color": "black", "strokeWidth": 2}, "encoding": {"y": {"field": "lod", "type": "quantitative", "axis": {"title": "LOD", "values": [0,1,2,3,4,5], "labelOverlap": false}}}},
    {"data": {"name": "dashed"}, "mark": {"type": "rule", "color": "black", "strokeWidth": 2, "strokeDash": [8, 5]}, "encoding": {"y": {"field": "lod", "type": "quantitative", "axis": {"title": "LOD", "values": [0,1,2,3,4,5], "labelOverlap": false}}}}
  ]
},
{
  "title": {"text": "Dressing percentage", "fontSize": 27, "fontWeight": "bold", "font": "Liberation Sans", "color": "black", "frame": "group", "anchor": "middle", "offset": -24, "baseline": "alphabetic"},
  "width": 1146, "height": 193,
  "layer": [
    {"data": {"name": "dressing"}, "mark": {"type": "line", "color": "#ff0000", "strokeWidth": 1.8, "clip": true},
     "encoding": {
       "x": {"field": "pos", "type": "quantitative", "scale": {"domain": [0, 1146], "nice": false, "zero": false},
             "axis": {"title": "Chromosome number", "values": [62.5,177,276,345,393.5,444.5,494.5,537.5,578.5,618.5,683,753.5,831,908,976.5,1033.5,1088.5], "labelExpr": "['1','2','3','4','5','6','7','8','9','10','12','14','16','18','20','22','24'][indexof([62.5,177,276,345,393.5,444.5,494.5,537.5,578.5,618.5,683,753.5,831,908,976.5,1033.5,1088.5], datum.value)]"}},
       "y": {"field": "lod", "type": "quantitative", "scale": {"domain": [0, 5], "nice": false},
             "axis": {"title": "LOD", "values": [0,1,2,3,4,5], "labelOverlap": false}},
       "detail": {"field": "chr", "type": "nominal"}}},
    {"data": {"name": "bounds"}, "mark": {"type": "rule", "color": "black", "strokeWidth": 2}, "encoding": {"x": {"field": "pos", "type": "quantitative"}}},
    {"data": {"name": "solid"}, "mark": {"type": "rule", "color": "black", "strokeWidth": 2}, "encoding": {"y": {"field": "lod", "type": "quantitative", "axis": {"title": "LOD", "values": [0,1,2,3,4,5], "labelOverlap": false}}}},
    {"data": {"name": "dashed"}, "mark": {"type": "rule", "color": "black", "strokeWidth": 2, "strokeDash": [8, 5]}, "encoding": {"y": {"field": "lod", "type": "quantitative", "axis": {"title": "LOD", "values": [0,1,2,3,4,5], "labelOverlap": false}}}}
  ]
}
]
}
